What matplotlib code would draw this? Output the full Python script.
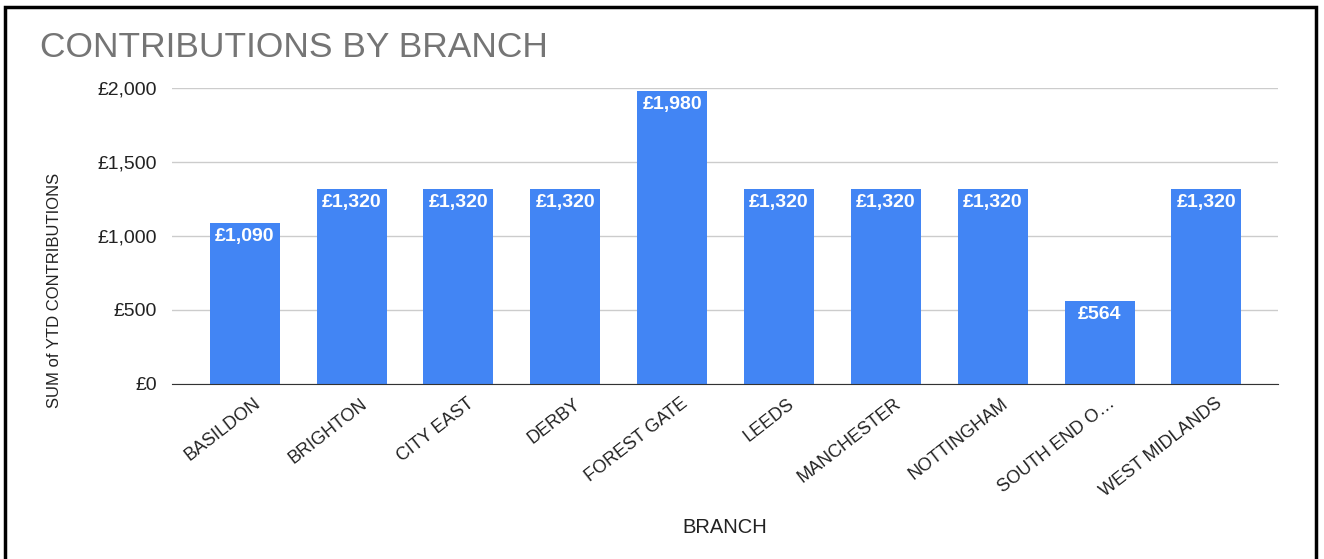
import matplotlib
matplotlib.use("Agg")
import matplotlib.pyplot as plt
import matplotlib.transforms as mtransforms
from matplotlib.patches import Rectangle
from matplotlib.ticker import FuncFormatter

branches = ["BASILDON", "BRIGHTON", "CITY EAST", "DERBY", "FOREST GATE",
            "LEEDS", "MANCHESTER", "NOTTINGHAM", "SOUTH END O…", "WEST MIDLANDS"]
contributions = [1090, 1320, 1320, 1320, 1980, 1320, 1320, 1320, 564, 1320]

plt.rcParams["font.family"] = ["Liberation Sans", "DejaVu Sans"]

W, H = 1324, 559
fig = plt.figure(figsize=(W / 100, H / 100), dpi=100)
ax = fig.add_axes([172 / W, 1 - 384 / H, (1278 - 172) / W, (384 - 88) / H])

x = list(range(len(branches)))
bars = ax.bar(x, contributions, width=0.655, color="#4285F4", zorder=3)

# value labels sit just inside the top of each bar
for b, v in zip(bars, contributions):
    ax.annotate(f"£{v:,}", (b.get_x() + b.get_width() / 2, v), xytext=(0, -10),
                textcoords="offset points", ha="center", va="center",
                color="white", fontsize=14, fontweight="bold", zorder=4)

ax.set_xlim(-0.68, 9.67)
ax.set_ylim(0, 2000)
ax.set_yticks([0, 500, 1000, 1500, 2000])
ax.yaxis.set_major_formatter(FuncFormatter(lambda v, p: f"£{int(v):,}"))
ax.grid(axis="y", color="#cccccc", lw=1, zorder=0)
ax.set_xticks(x)
ax.set_xticklabels(branches, rotation=38, ha="right", va="top", rotation_mode="anchor", fontsize=13)
ax.tick_params(axis="both", length=0, colors="#222222")
ax.tick_params(axis="x", labelsize=13, pad=8)
ax.tick_params(axis="y", labelsize=14, pad=11)
shift = mtransforms.ScaledTranslation(6 / 72, 0, fig.dpi_scale_trans)
for lbl in ax.get_xticklabels():
    lbl.set_transform(lbl.get_transform() + shift)
for s in ["top", "right", "left"]:
    ax.spines[s].set_visible(False)
ax.spines["bottom"].set_color("#333333")
ax.spines["bottom"].set_zorder(5)

fig.text(55 / W, 1 - 290 / H, "SUM of YTD CONTRIBUTIONS", rotation=90, ha="center", va="center",
         fontsize=12, color="#222222")
fig.text(725 / W, 1 - 533 / H, "BRANCH", ha="center", va="baseline", fontsize=14.5, color="#222222")
fig.text(40 / W, 1 - 57 / H, "CONTRIBUTIONS BY BRANCH", ha="left", va="baseline",
         fontsize=25.5, color="#757575")

fig.patches.append(Rectangle((5 / W, -0.01), 1311 / W, 1 - 7 / H + 0.01,
                             transform=fig.transFigure, fill=False, ec="black", lw=2.5))

fig.savefig("out.png", dpi=100)
